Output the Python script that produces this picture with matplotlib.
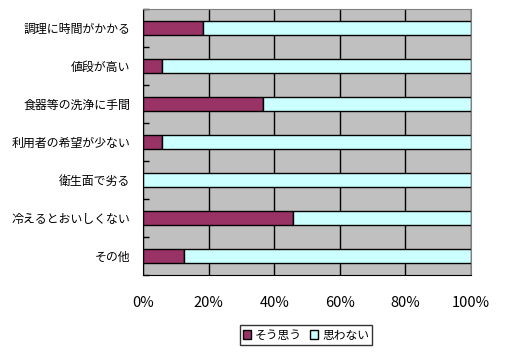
import matplotlib
matplotlib.use('Agg')
import matplotlib.pyplot as plt
import numpy as np
from matplotlib.patches import Patch

plt.rcParams['font.family'] = ['Noto Sans CJK JP', 'DejaVu Sans']

categories = ['調理に時間がかかる', '値段が高い', '食器等の洗浄に手間', '利用者の希望が少ない',
              '衛生面で劣る', '冷えるとおいしくない', 'その他']
agree = [18.4, 5.7, 36.6, 5.7, 0.0, 45.7, 12.6]
disagree = [100 - v for v in agree]
xticks = [0, 20, 40, 60, 80, 100]
xlabels = ['0%', '20%', '40%', '60%', '80%', '100%']

fig = plt.figure(figsize=(5.16, 3.52), dpi=100)
ax = fig.add_axes([143 / 516, 1 - 275 / 352, 328 / 516, 266 / 352])
ax.set_facecolor('#C0C0C0')

y = np.arange(len(categories))
ax.barh(y, agree, height=0.35, color='#993366', edgecolor='black', linewidth=1)
ax.barh(y, disagree, left=agree, height=0.35, color='#CCFFFF', edgecolor='black', linewidth=1)

ax.set_xlim(0, 100)
ax.set_ylim(len(categories) - 0.5, -0.5)
ax.set_xticks(xticks)
ax.set_xticklabels(xlabels, fontsize=10.5)
ax.tick_params(axis='x', length=0, pad=15)
ax.grid(axis='x', color='black', linewidth=1)
ax.set_axisbelow(True)

ax.set_yticks(y)
ax.set_yticklabels(categories, fontsize=8.6)
ax.tick_params(axis='y', which='major', length=0, pad=9)
ax.set_yticks(np.arange(len(categories) + 1) - 0.5, minor=True)
ax.tick_params(axis='y', which='minor', direction='in', length=4, width=1, color='black')

for side in ['left', 'bottom']:
    ax.spines[side].set_color('black')
for side in ['top', 'right']:
    ax.spines[side].set_color('#808080')

handles = [Patch(facecolor='#993366', edgecolor='black', label='そう思う'),
           Patch(facecolor='#CCFFFF', edgecolor='black', label='思わない')]
leg = fig.legend(handles=handles, loc='center', bbox_to_anchor=(306 / 516, 1 - 335 / 352),
                 ncol=2, fontsize=8.5, frameon=True, fancybox=False, handlelength=0.7,
                 handleheight=0.7, handletextpad=0.3, columnspacing=0.7, borderpad=0.3)
leg.get_frame().set_edgecolor('black')
leg.get_frame().set_linewidth(1)

fig.savefig('out.png', dpi=100)
